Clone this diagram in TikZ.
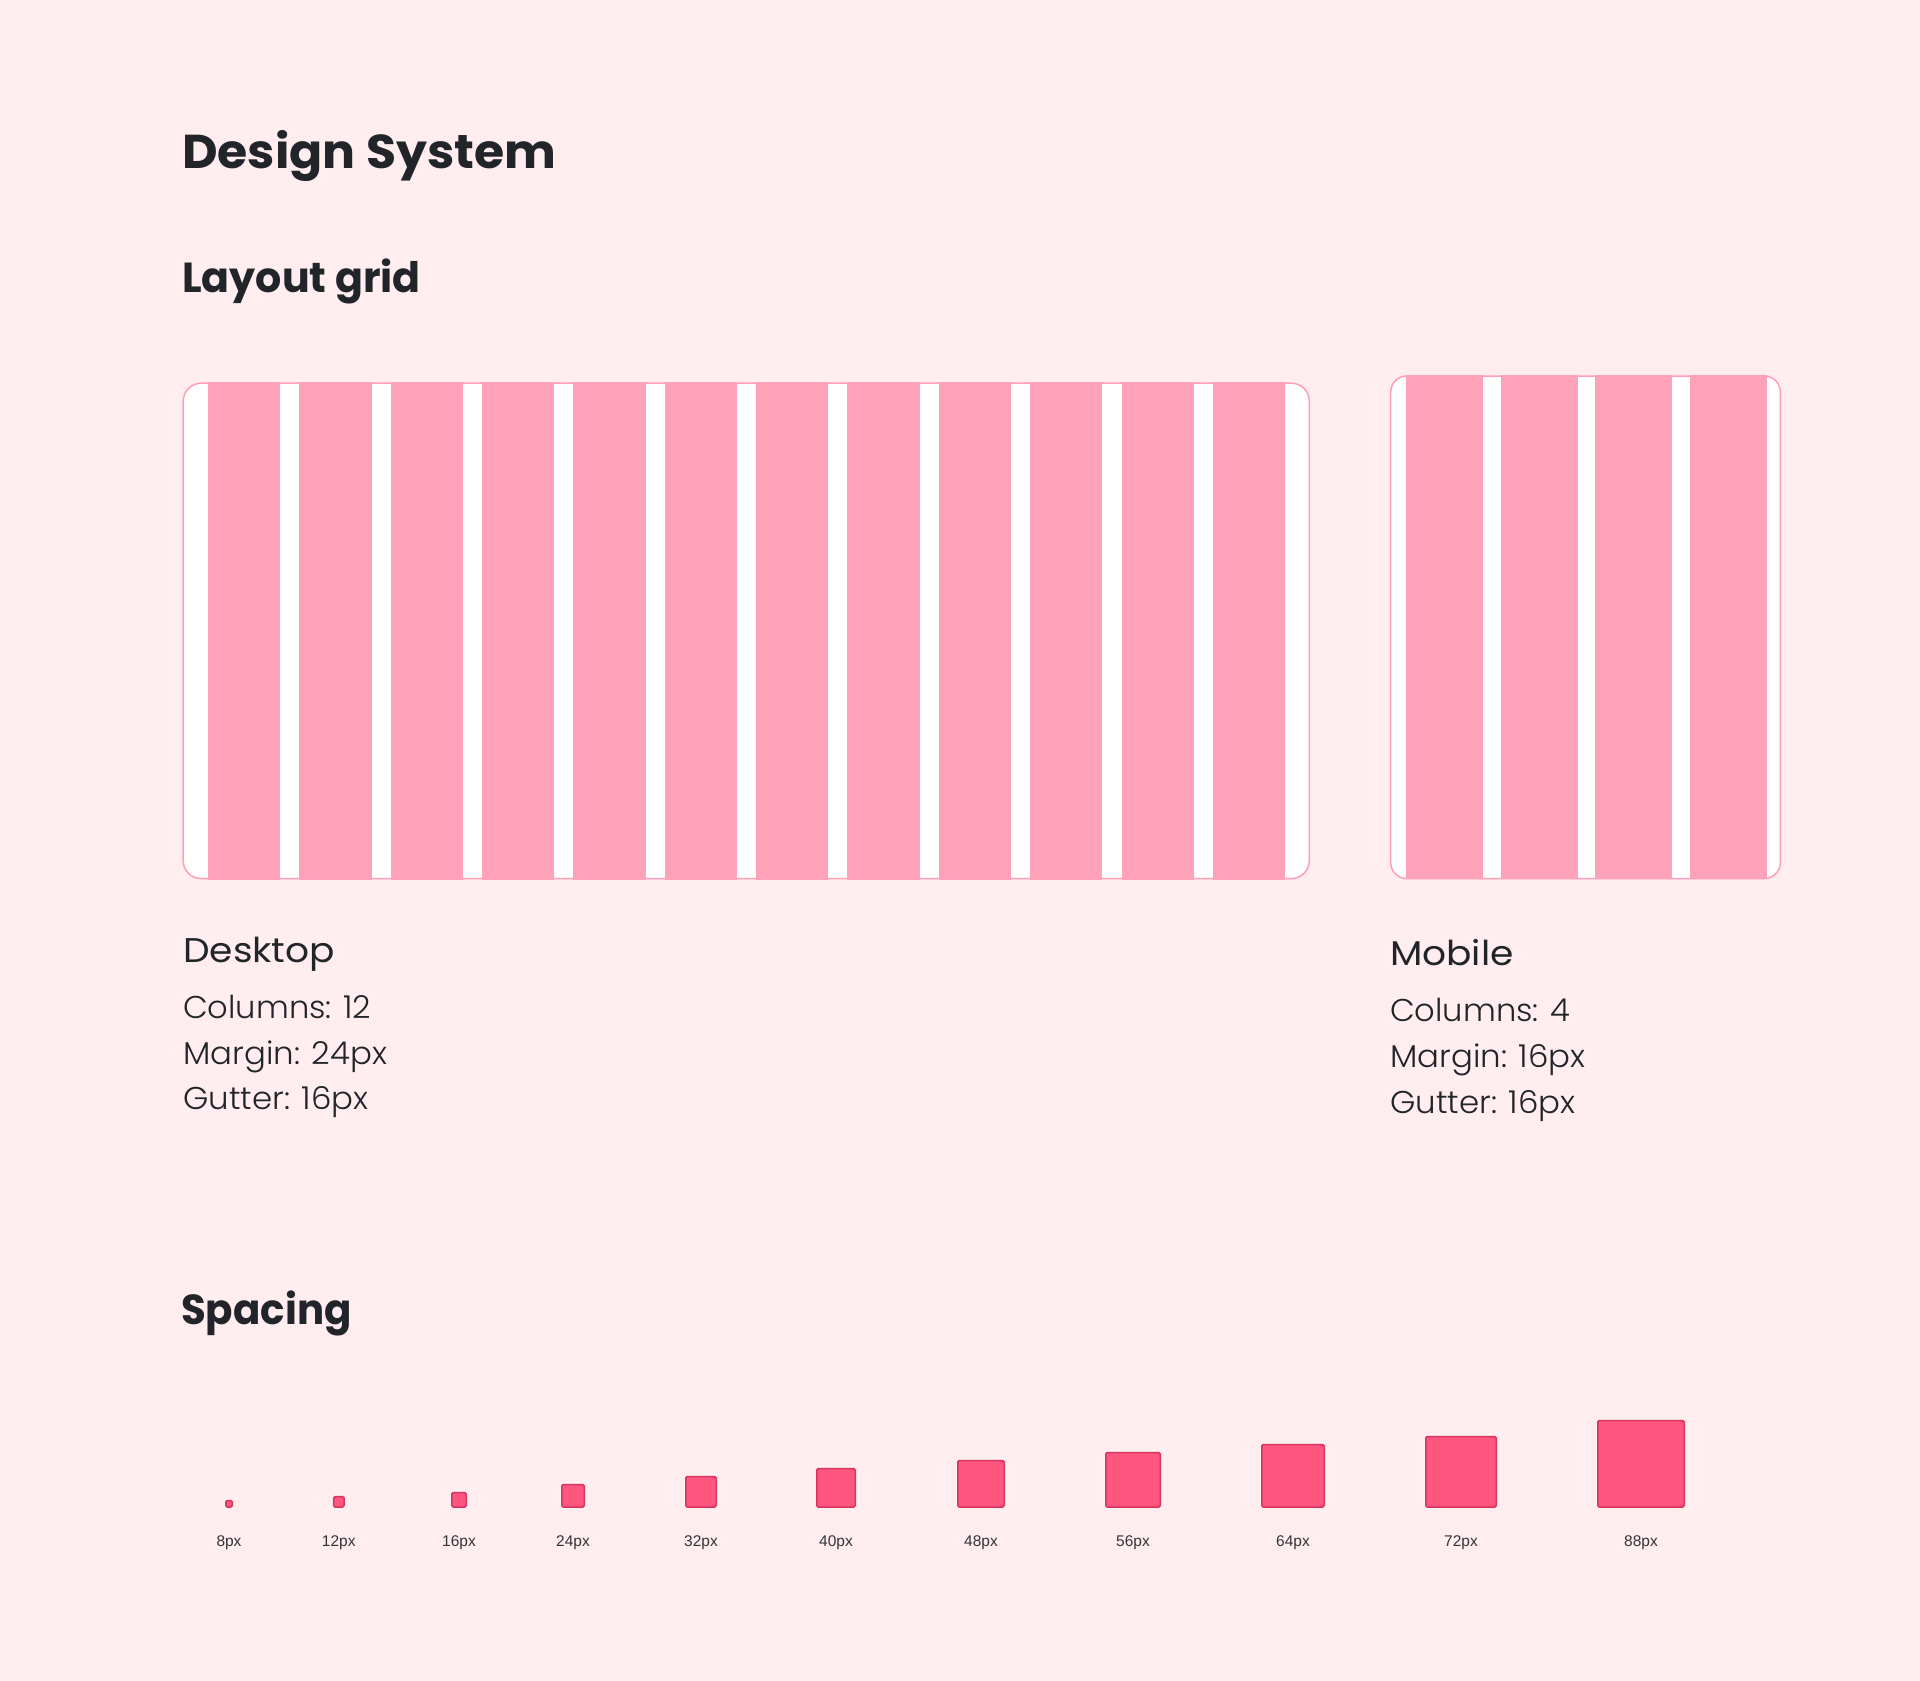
\documentclass[tikz,border=0pt]{standalone}
\usepackage{fontspec}
\setmainfont{Poppins}
\newfontfamily\lightf{Poppins Light}
\newfontfamily\labelf{Liberation Sans}
\definecolor{bg}{HTML}{FFEDF0}
\definecolor{colpink}{HTML}{FFA1B9}
\definecolor{edgepink}{HTML}{FF9EB6}
\definecolor{sqfill}{HTML}{FF5680}
\definecolor{sqedge}{HTML}{D6365E}
\definecolor{ink}{HTML}{212429}
\definecolor{labink}{HTML}{333438}
\tikzset{
  txt/.style={anchor=base west, inner sep=0pt, text=ink},
  gridbox/.style={fill=white, draw=edgepink, line width=1.5pt},
  gridcol/.style={fill=colpink},
  spsq/.style={fill=sqfill, draw=sqedge, line width=1.5pt, rounded corners=1.5pt},
  splabel/.style={anchor=base, inner sep=0pt, text=labink, font=\labelf\fontsize{15.5}{18}\selectfont},
}
\newcommand{\wx}[2]{\scalebox{#1}[1]{#2}}
\begin{document}
\begin{tikzpicture}[x=1pt,y=-1pt]
\useasboundingbox (0,0) rectangle (1920,1681);
\fill[bg] (0,0) rectangle (1920,1681);

% headings
\node[txt, font=\bfseries\fontsize{47.5}{52}\selectfont] (title) at (182,168.3) {\wx{1.03}{Design System}};
\node[txt, font=\bfseries\fontsize{42}{46}\selectfont] (layout) at (182,292.7) {\wx{0.98}{Layout grid}};
\node[txt, font=\bfseries\fontsize{42}{46}\selectfont] (spacing) at (181,1324) {\wx{0.96}{Spacing}};

% desktop grid
\draw[gridbox, rounded corners=18pt] (183.2,383.2) rectangle (1309.3,878.6);
\foreach \i in {0,...,11}{
  \fill[gridcol] ({208+\i*91.35},382.3) rectangle ({208+\i*91.35+72.15},879.6);
}
% mobile grid
\draw[gridbox, rounded corners=16pt] (1390.7,376) rectangle (1780.3,878.6);
\foreach \i in {0,...,3}{
  \fill[gridcol] ({1406+\i*94.67},375.3) rectangle ({1406+\i*94.67+77},879.4);
}

% desktop text
\node[txt, font=\fontsize{34.3}{40}\selectfont] (desk) at (183,962.3) {\wx{1.095}{Desktop}};
\node[txt, font=\lightf\fontsize{31.5}{36}\selectfont] (d1) at (183,1018.3) {\wx{1.02}{Columns: 12}};
\node[txt, font=\lightf\fontsize{31.5}{36}\selectfont] (d2) at (183,1064) {\wx{1.03}{Margin: 24px}};
\node[txt, font=\lightf\fontsize{31.5}{36}\selectfont] (d3) at (183,1109.3) {\wx{1.03}{Gutter: 16px}};

% mobile text
\node[txt, font=\fontsize{34.3}{40}\selectfont] (mob) at (1390,965) {\wx{1.095}{Mobile}};
\node[txt, font=\lightf\fontsize{31.5}{36}\selectfont] (m1) at (1390,1021.7) {\wx{1.02}{Columns: 4}};
\node[txt, font=\lightf\fontsize{31.5}{36}\selectfont] (m2) at (1390,1067.7) {\wx{1.03}{Margin: 16px}};
\node[txt, font=\lightf\fontsize{31.5}{36}\selectfont] (m3) at (1390,1113.3) {\wx{1.03}{Gutter: 16px}};

% spacing scale
\foreach \c/\s/\t [count=\k] in {229/8/8px, 338.8/12/12px, 459/16/16px, 573/24/24px, 701/32/32px, 836/40/40px, 981/48/48px, 1133/56/56px, 1293/64/64px, 1461/72/72px, 1641/88/88px}{
  \draw[spsq] ({\c-\s/2+0.75},{1507-\s+1.5}) rectangle ({\c+\s/2-0.75},1507);
  \node[splabel] (lab\k) at (\c,1546.7) {\t};
}
\end{tikzpicture}
\end{document}
